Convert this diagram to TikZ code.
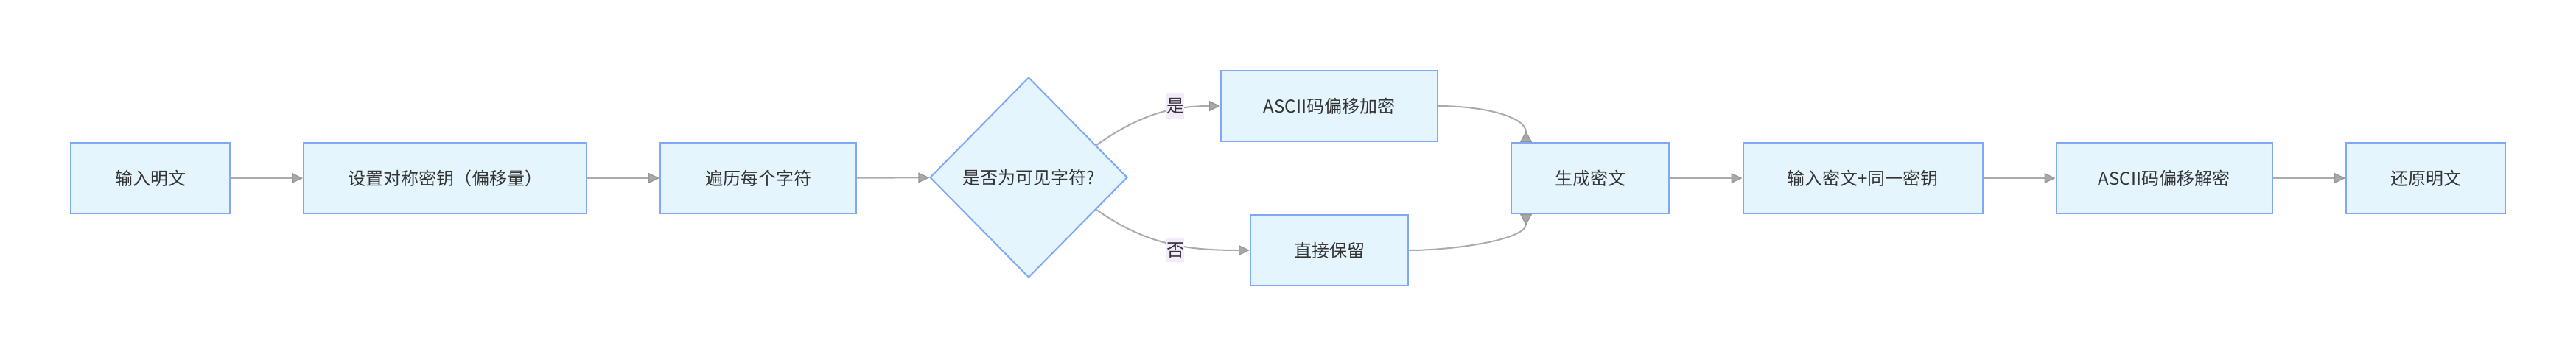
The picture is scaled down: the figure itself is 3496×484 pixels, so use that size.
\documentclass[tikz,border=0pt]{standalone}
\usepackage{fontspec}
\newfontfamily\cjk{Noto Sans CJK SC}
\usetikzlibrary{positioning, calc, shapes, arrows.meta}

\definecolor{boxfill}{HTML}{E5F5FE}
\definecolor{boxline}{HTML}{7EA9F8}
\definecolor{edgeline}{HTML}{ABABAB}
\definecolor{tipfill}{HTML}{A8A8A8}
\definecolor{tipline}{HTML}{969696}
\definecolor{labelbg}{HTML}{F3EAFC}
\definecolor{ink}{HTML}{333333}

\begin{document}
\begin{tikzpicture}[x=0.5pt, y=0.5pt]
  \tikzstyle{proc}=[draw=boxline, fill=boxfill, line width=1pt, minimum height=48pt,
  text=ink, font=\cjk\fontsize{12pt}{14pt}\selectfont, inner sep=0pt]
  \tikzstyle{choice}=[proc, diamond, minimum width=134pt, minimum height=136pt]
  \tikzstyle{flow}=[draw=edgeline, line width=1pt,
  -{Triangle[length=7.5pt, width=7pt, line width=0.6pt, color=tipline, fill=tipfill]}]
  \tikzstyle{back}=[draw=edgeline, line width=1pt,
  -{Triangle[reversed, length=7.5pt, width=8pt, line width=0.6pt, color=tipline, fill=tipfill]}]
  \tikzstyle{answer}=[fill=labelbg, text=ink, font=\cjk\fontsize{12pt}{14pt}\selectfont,
  inner xsep=0pt, inner ysep=3pt]

  \useasboundingbox (0,0) rectangle (3496,484);

  % encryption
  \node (plain) at (204,242) [proc, minimum width=108pt] {输入明文};
  \node (key) at (604,242) [proc, minimum width=192pt] {设置对称密钥（偏移量）};
  \node (scan) at (1029,242) [proc, minimum width=133pt] {遍历每个字符};
  \node (visible) at (1396,243) [choice] {是否为可见字符?};
  \node (shift) at (1804,340) [proc, minimum width=147pt] {ASCII码偏移加密};
  \node (keep) at (1804,144) [proc, minimum width=107pt] {直接保留};
  \node (cipher) at (2158,242) [proc, minimum width=107pt] {生成密文};

  % decryption
  \node (input) at (2528,242) [proc, minimum width=162.5pt] {输入密文+同一密钥};
  \node (unshift) at (2937,242) [proc, minimum width=146.5pt] {ASCII码偏移解密};
  \node (restore) at (3292,242) [proc, minimum width=108pt] {还原明文};

  \draw[flow] (plain) -- (key);
  \draw[flow] (key) -- (scan);
  \draw[flow] (scan) -- (visible);
  \draw[flow] ($(visible.east)!0.32!(visible.north)$) to[out=35, in=180] (shift.west);
  \draw[flow] ($(visible.east)!0.32!(visible.south)$) to[out=-35, in=180] (keep.west);
  \draw[back] (shift.east) .. controls +(60,0) and +(0,35) .. ($(cipher.north west)+(21,0)$);
  \draw[back] (keep.east) .. controls +(60,0) and +(0,-35) .. ($(cipher.south west)+(21,0)$);
  \draw[flow] (cipher) -- (input);
  \draw[flow] (input) -- (unshift);
  \draw[flow] (unshift) -- (restore);

  \node (yes) at (1595,340) [answer] {是};
  \node (no) at (1595,144) [answer] {否};
\end{tikzpicture}
\end{document}
